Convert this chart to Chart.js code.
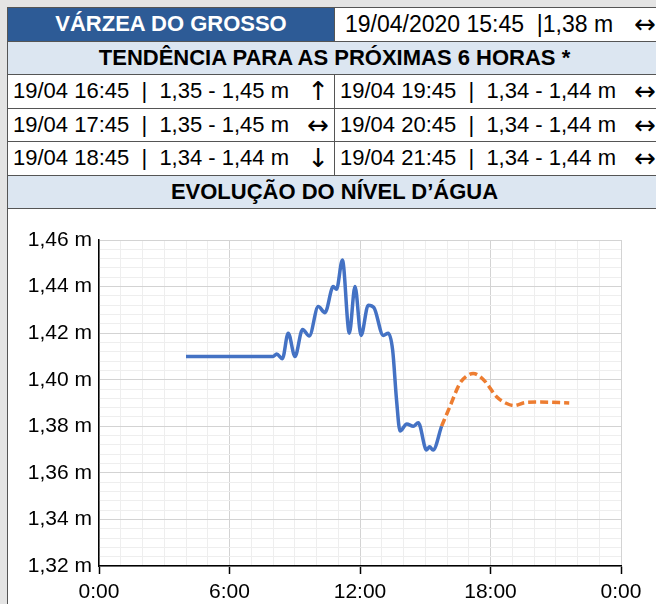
<!DOCTYPE html>
<html>
<head>
<meta charset="utf-8">
<script src="https://cdn.jsdelivr.net/npm/chart.js@4/dist/chart.umd.min.js"></script>
<style>
  body { margin: 0; background: #e4e4e4; overflow: hidden; font-family: "Liberation Sans", Arial, sans-serif; }
  #wrap { position: absolute; left: 7px; top: 7px; width: 700px; }
  table { border-collapse: collapse; table-layout: fixed; width: 654px; }
  td { border: 1px solid #555; height: 32.5px; padding: 0 5px; font-size: 22px; color: #000; background: #fff; white-space: pre; overflow: hidden; }
  .title { background: #2d5b96; color: #fff; font-weight: bold; text-align: center; }
  .band { background: #dce6f1; font-weight: bold; text-align: center; }
  .cell { display: flex; justify-content: space-between; align-items: center; height: 32px; }
  .arrow { font-family: "DejaVu Sans", sans-serif; font-size: 26px; line-height: 26px; }
  .now { padding-left: 10px; font-size: 23px; }
  #chartBox { background: #fff; border-left: 1px solid #555; width: 660px; height: 420px; }
</style>
</head>
<body>
<div id="wrap">
  <table id="tbl"></table>
  <div id="chartBox"><canvas id="levelChart" width="660" height="420"></canvas></div>
</div>
<script>
// Station header
const station = "VÁRZEA DO GROSSO";
const current = "19/04/2020 15:45  |1,38 m";
const currentArrow = "↔";

// Forecast for the next 6 hours
const fcTimes = ["19/04 16:45", "19/04 17:45", "19/04 18:45", "19/04 19:45", "19/04 20:45", "19/04 21:45"];
const fcRanges = ["1,35 - 1,45 m", "1,35 - 1,45 m", "1,34 - 1,44 m", "1,34 - 1,44 m", "1,34 - 1,44 m", "1,34 - 1,44 m"];
const fcArrows = ["↑", "↔", "↓", "↔", "↔", "↔"];

// Observed water level (hour of day, m)
const obsHours = [4.0, 8.0, 8.17, 8.43, 8.70, 9.01, 9.36, 9.67, 10.08, 10.39, 10.77, 10.92, 11.19, 11.51, 11.77, 12.05, 12.38, 12.64, 13.07, 13.30, 13.50, 13.68, 13.84, 14.15, 14.45, 14.68, 15.06, 15.2, 15.36, 15.75];
const obsLevels = [1.410, 1.410, 1.411, 1.409, 1.420, 1.410, 1.4216, 1.4188, 1.4314, 1.4288, 1.440, 1.4388, 1.4514, 1.420, 1.440, 1.419, 1.432, 1.431, 1.419, 1.420, 1.4128, 1.3913, 1.378, 1.381, 1.380, 1.3815, 1.3698, 1.3712, 1.3698, 1.380];

// Forecast water level
const predHours = [15.75, 16.13, 16.59, 16.87, 17.2, 17.7, 18.28, 18.72, 19.08, 19.6, 20.3, 21.62];
const predLevels = [1.380, 1.3884, 1.3984, 1.4013, 1.4027, 1.3998, 1.3927, 1.3899, 1.3889, 1.3902, 1.3904, 1.3900];

// Build the table
const tbl = document.getElementById("tbl");
let html = '<colgroup><col style="width:327px"><col style="width:327px"></colgroup>';
html += '<tr><td class="title">' + station + '</td><td class="now"><div class="cell"><span>' + current + '</span><span class="arrow">' + currentArrow + '</span></div></td></tr>';
html += '<tr><td class="band" colspan="2">TENDÊNCIA PARA AS PRÓXIMAS 6 HORAS *</td></tr>';
for (let i = 0; i < 3; i++) {
    html += '<tr>';
    [i, i + 3].forEach(k => {
        html += '<td><div class="cell"><span>' + fcTimes[k] + '  |  ' + fcRanges[k] + '</span><span class="arrow">' + fcArrows[k] + '</span></div></td>';
    });
    html += '</tr>';
}
html += '<tr><td class="band" colspan="2">EVOLUÇÃO DO NÍVEL D’ÁGUA</td></tr>';
tbl.innerHTML = html;

const fam = '"Liberation Sans", Arial, sans-serif';
const isMajorY = v => Math.round(v * 1000) % 20 === 0;

new Chart(document.getElementById("levelChart"), {
    type: "line",
    data: {
        datasets: [{
            data: obsHours.map((h, i) => ({ x: h, y: obsLevels[i] })),
            borderColor: "#4472c4",
            borderWidth: 3.5,
            pointRadius: 0,
            cubicInterpolationMode: "monotone"
        }, {
            data: predHours.map((h, i) => ({ x: h, y: predLevels[i] })),
            borderColor: "#ed7d31",
            borderWidth: 3.5,
            borderDash: [8, 4],
            pointRadius: 0,
            cubicInterpolationMode: "monotone"
        }]
    },
    options: {
        responsive: false,
        animation: false,
        layout: { padding: { top: 31, right: 47, bottom: 23, left: 0 } },
        plugins: { legend: { display: false }, tooltip: { enabled: false } },
        scales: {
            x: {
                type: "linear",
                min: 0,
                max: 24,
                afterFit: s => { s.height = 40; },
                ticks: {
                    stepSize: 1,
                    autoSkip: false,
                    maxTicksLimit: 100,
                    maxRotation: 0,
                    padding: 6,
                    color: "#000",
                    font: { family: fam, size: 21 },
                    callback: v => v % 6 === 0 ? (v % 24) + ":00" : ""
                },
                grid: {
                    tickLength: 8,
                    color: c => c.tick && c.tick.value % 6 === 0 ? "#d3d3d3" : "#eeeeee",
                    tickColor: c => c.tick && c.tick.value % 6 === 0 ? "#000" : "rgba(0,0,0,0)",
                    tickWidth: 1.5
                },
                border: { color: "#000", width: 1.5 }
            },
            y: {
                min: 1.32,
                max: 1.46,
                afterFit: s => { s.width = 91; },
                ticks: {
                    stepSize: 0.004,
                    autoSkip: false,
                    maxTicksLimit: 100,
                    padding: 7,
                    color: "#000",
                    font: { family: fam, size: 21 },
                    callback: v => isMajorY(v) ? v.toFixed(2).replace(".", ",") + " m" : ""
                },
                grid: {
                    drawTicks: false,
                    color: c => c.tick && isMajorY(c.tick.value) ? "#d3d3d3" : "#eeeeee"
                },
                border: { color: "#000", width: 1.5 }
            }
        }
    }
});
</script>
</body>
</html>
